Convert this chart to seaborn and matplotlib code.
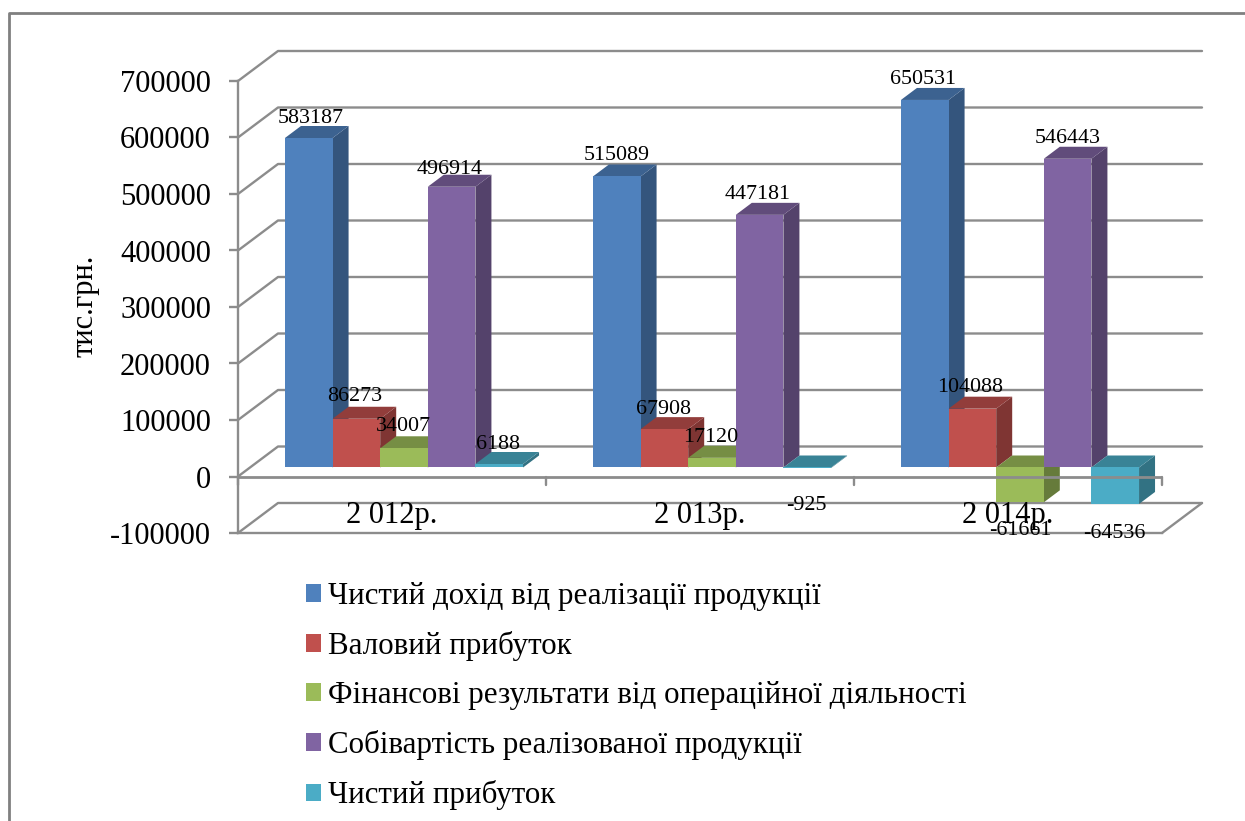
import matplotlib
matplotlib.use('Agg')
import matplotlib.pyplot as plt
import matplotlib.colors as mc
from matplotlib.lines import Line2D
from matplotlib.patches import Polygon
import pandas as pd
import seaborn as sns

years = ['2 012р.', '2 013р.', '2 014р.']
series_names = ['Чистий дохід від реалізації продукції', 'Валовий прибуток',
                'Фінансові результати від операційної діяльності',
                'Собівартість реалізованої продукції', 'Чистий прибуток']
net_income = [583187, 515089, 650531]
gross_profit = [86273, 67908, 104088]
op_result = [34007, 17120, -61661]
cost = [496914, 447181, 546443]
net_profit = [6188, -925, -64536]
all_series = [net_income, gross_profit, op_result, cost, net_profit]

y_ticks = [-100000, 0, 100000, 200000, 300000, 400000, 500000, 600000, 700000]
colors = ['#4F81BD', '#C0504D', '#9BBB59', '#8064A2', '#4BACC6']

# label nudges in pixels from the bar end, same order as all_series
label_dx = [[2, 0, -2], [-2, -1, -2], [-1, -1, 0], [-2, -2, 0], [-1, -1, -1]]
label_dy = [[19, 21, 20], [22, 20, 21], [22, 20, -28], [17, 20, 20], [20, -37, -30]]

W, H = 1245, 821
GRID = '#8C8C8C'

sns.set_style('white')
plt.rcParams['font.family'] = ['Liberation Serif', 'DejaVu Serif']

rows = []
for name, vals in zip(series_names, all_series):
    for y, v in zip(years, vals):
        rows.append({'year': y, 'series': name, 'value': v})
df = pd.DataFrame(rows)


def box(x0, y_top, x1, y_bot):
    return [x0 / W, 1 - y_bot / H, (x1 - x0) / W, (y_bot - y_top) / H]


fig = plt.figure(figsize=(W / 100, H / 100), dpi=100, facecolor='white')
# bars sit a little behind the front plane of the chart
ax = fig.add_axes(box(250, 72, 1174, 524), zorder=1)
ax_front = fig.add_axes(box(238, 81, 1162, 533), zorder=2)
ax_front.patch.set_visible(False)

sns.barplot(data=df, x='year', y='value', hue='series', order=years, hue_order=series_names,
            palette=colors, width=0.773, gap=0, saturation=1, linewidth=0, ax=ax)
handles, labels = ax.get_legend_handles_labels()
ax.get_legend().remove()

x_px = 1 / 308
y_px = 800000 / 452
for lim_ax in (ax, ax_front):
    lim_ax.set_xlim(-0.5, 2.5)
    lim_ax.set_ylim(-100000, 700000)

# sides and tops of the columns
bar_dx = 16 * x_px
bar_dy = 12 * y_px
for i, cont in enumerate(ax.containers):
    base = mc.to_rgb(colors[i])
    side_c = [c * 0.66 for c in base]
    top_c = [c * 0.76 for c in base]
    for j, bar in enumerate(cont):
        x0 = bar.get_x()
        x1 = x0 + bar.get_width()
        v = all_series[i][j]
        hi = max(v, 0)
        lo = min(v, 0)
        bar.set_zorder(i + 1.5)
        ax.add_patch(Polygon([(x1, lo), (x1 + bar_dx, lo + bar_dy), (x1 + bar_dx, hi + bar_dy), (x1, hi)],
                             facecolor=side_c, edgecolor='none', zorder=i + 1))
        ax.add_patch(Polygon([(x0, hi), (x0 + bar_dx, hi + bar_dy), (x1 + bar_dx, hi + bar_dy), (x1, hi)],
                             facecolor=top_c, edgecolor='none', zorder=i + 1))
        # on the front axes so the floor lines do not cross the digits
        ax_front.annotate(str(v), xy=((x0 + x1) / 2, v), xycoords=ax.transData,
                          xytext=(label_dx[i][j], label_dy[i][j]), textcoords='offset pixels',
                          ha='center', va='center', fontsize=15.8, color='black', zorder=10,
                          annotation_clip=False)

# back wall and floor lines
wall_dx = 40 * x_px
wall_dy = 30 * y_px
for t in y_ticks:
    ax.plot([-0.5, -0.5 + wall_dx, 2.5 + wall_dx], [t, t + wall_dy, t + wall_dy],
            color=GRID, lw=1.7, transform=ax_front.transData, clip_on=False, zorder=0.5)
ax.plot([2.5, 2.5 + wall_dx], [y_ticks[0], y_ticks[0] + wall_dy], color=GRID, lw=1.7,
        transform=ax_front.transData, clip_on=False, zorder=0.5)
ax.axis('off')

# front plane
sns.despine(ax=ax_front, top=True, right=True)
for s in ('left', 'bottom'):
    ax_front.spines[s].set_color(GRID)
    ax_front.spines[s].set_linewidth(1.7)
ax_front.axhline(0, color=GRID, lw=2)
for b in (-0.5, 0.5, 1.5, 2.5):
    ax_front.plot([b, b], [0, -8 * y_px], color=GRID, lw=1.7, clip_on=False)
ax_front.set_yticks(y_ticks)
ax_front.set_yticklabels([str(t) for t in y_ticks], fontsize=22)
ax_front.tick_params(axis='y', left=True, length=6.5, width=1.7, color=GRID, pad=13, labelcolor='black')
ax_front.set_xticks(range(3))
ax_front.set_xticklabels(years, fontsize=22)
ax_front.tick_params(axis='x', length=0, pad=-23, labelcolor='black')
ax_front.set_xlabel('')
ax_front.set_ylabel('тис.грн.', fontsize=22, color='black')
ax_front.yaxis.set_label_coords((100 - 238) / 924, (533 - 306) / 452)

fig.legend(handles, labels, loc='upper left', bbox_to_anchor=(278 / W, 1 - 554 / H), frameon=False,
           fontsize=22.3, labelspacing=0.65, handlelength=0.5, handleheight=0.5, handletextpad=0.23,
           borderpad=0.4, labelcolor='black')

# screenshot border
fig.add_artist(Line2D([9 / W, 9 / W, 1], [0, 1 - 13 / H, 1 - 13 / H], color='#808080', lw=2))

fig.savefig('out.png', dpi=100)
